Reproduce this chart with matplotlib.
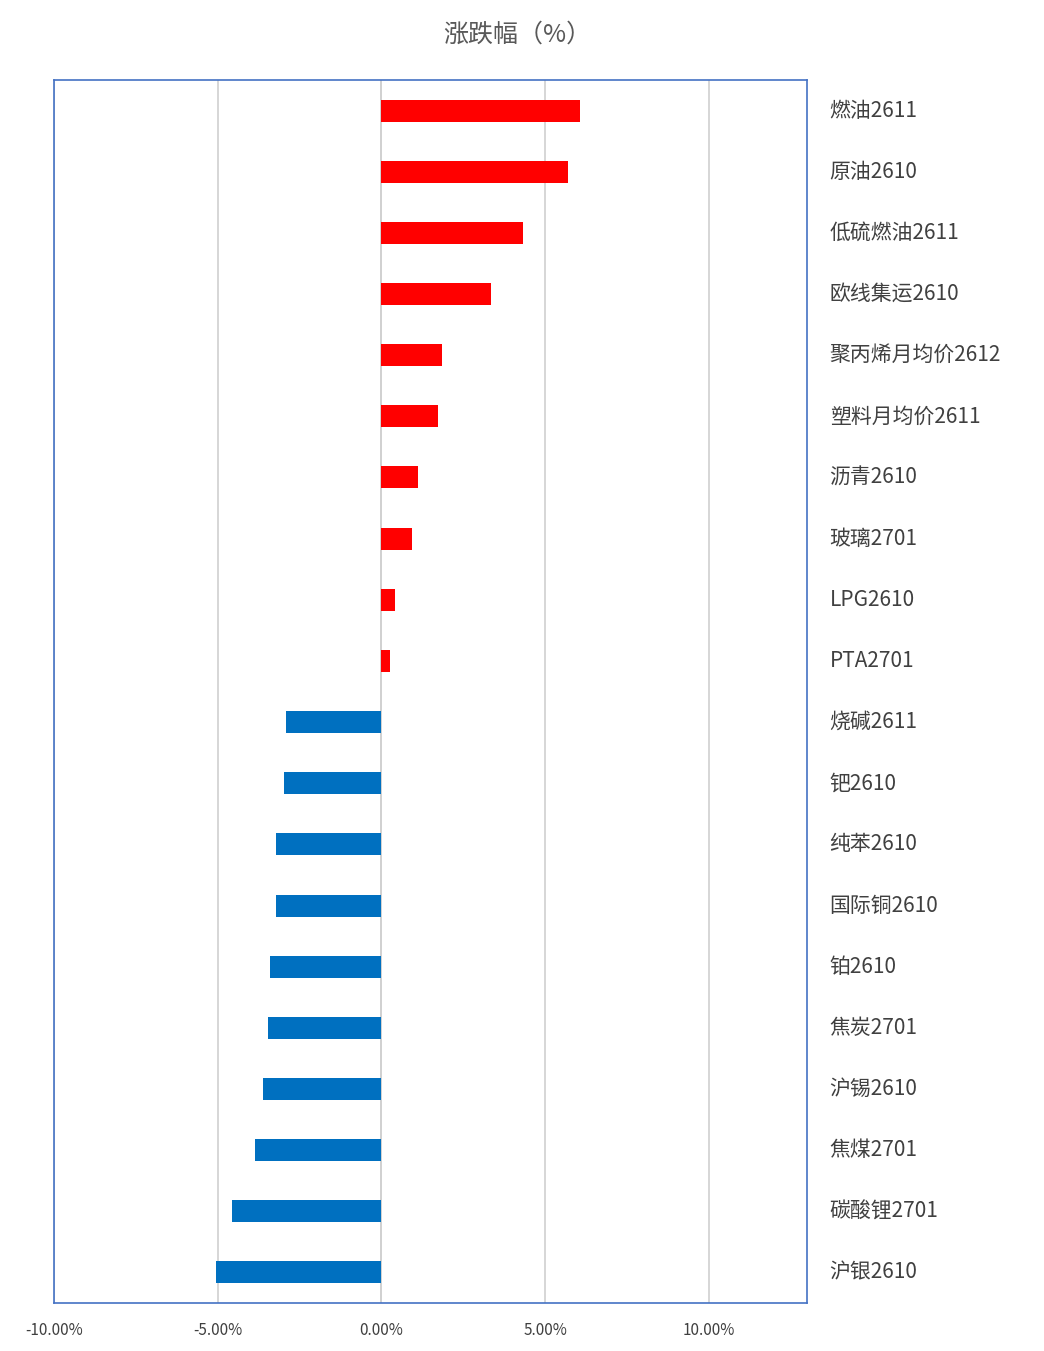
import matplotlib
matplotlib.use("Agg")
import matplotlib.pyplot as plt
from matplotlib.ticker import FuncFormatter

plt.rcParams['font.family'] = ['Noto Sans CJK SC', 'DejaVu Sans']

categories = ["燃油2611","原油2610","低硫燃油2611","欧线集运2610","聚丙烯月均价2612","塑料月均价2611",
              "沥青2610","玻璃2701","LPG2610","PTA2701","烧碱2611","钯2610","纯苯2610","国际铜2610",
              "铂2610","焦炭2701","沪锡2610","焦煤2701","碳酸锂2701","沪银2610"]
values = [6.07,5.70,4.33,3.35,1.86,1.74,1.13,0.95,0.43,0.27,-2.90,-2.99,-3.23,-3.23,-3.41,-3.45,-3.63,-3.87,-4.57,-5.06]
xticks = [-10,-5,0,5,10]

fig = plt.figure(figsize=(10.44,13.51), dpi=100)
ax = fig.add_axes([54/1044, 1-1303/1351, (807-54)/1044, (1303-80)/1351])
n = len(categories)
ys = list(range(n))
colors = ['#FF0000' if v>0 else '#0070C0' for v in values]
ax.barh(ys, values, height=0.36, color=colors, zorder=3)
ax.set_ylim(n-0.5, -0.5)
ax.set_xlim(-10, 13)
ax.set_xticks(xticks)
ax.xaxis.set_major_formatter(FuncFormatter(lambda v,p: f"{v:.2f}%"))
ax.tick_params(axis='x', length=0, labelsize=11, colors='#404040', pad=14)
ax.set_yticks([])
ax.grid(axis='x', color='#D0D0D0', lw=1.2, zorder=0)
ax.axvline(0, color='#D0D0D0', lw=1.2, zorder=1)
for s in ax.spines.values():
    s.set_color('#4472C4'); s.set_linewidth(1.2)
for y, c in zip(ys, categories):
    ax.text(1.03, y, c, transform=ax.get_yaxis_transform(), va='center', ha='left', fontsize=15, color='#404040')
fig.text(0.495, 1-35/1351, "涨跌幅（%）", ha='center', va='center', fontsize=18, color='#595959')
fig.savefig("out.png", dpi=100, facecolor='white')
